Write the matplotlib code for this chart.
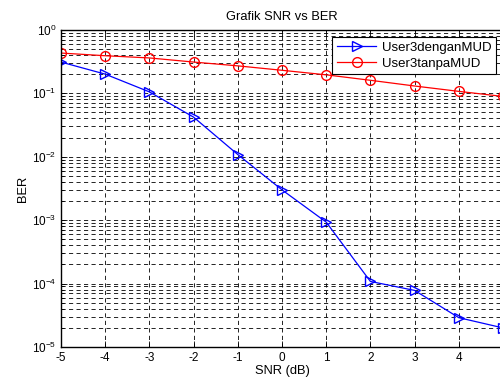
import matplotlib
matplotlib.use("Agg")
import matplotlib.pyplot as plt
from matplotlib.ticker import LogLocator, NullFormatter

plt.rcParams['font.family'] = ['Liberation Sans', 'DejaVu Sans']
plt.rcParams['mathtext.fontset'] = 'custom'
plt.rcParams['mathtext.rm'] = 'Liberation Sans'

snr = [-5, -4, -3, -2, -1, 0, 1, 2, 3, 4, 5]
ber_mud = [0.31, 0.20, 0.105, 0.042, 0.0108, 0.003, 0.00093, 1.08e-4, 7.8e-5, 2.9e-5, 2.0e-5]
ber_nomud = [0.43, 0.39, 0.36, 0.31, 0.27, 0.23, 0.195, 0.16, 0.13, 0.107, 0.089]
labels = ['User3denganMUD', 'User3tanpaMUD']

fig = plt.figure(figsize=(5.0, 3.79), dpi=100)
ax = fig.add_axes([0.122, 0.0844, 0.884, 0.837])

ax.semilogy(snr, ber_mud, color='#0000ff', marker='>', markerfacecolor='none',
            markeredgecolor='#0000ff', markersize=7, linewidth=0.9, label=labels[0])
ax.semilogy(snr, ber_nomud, color='#ff0000', marker='o', markerfacecolor='none',
            markeredgecolor='#ff0000', markersize=7, linewidth=0.9, label=labels[1])

ax.set_xlim(-5, 5)
ax.set_ylim(1e-5, 1e0)
ax.set_xticks(snr)
ax.set_xticklabels([str(v) for v in snr])
ax.yaxis.set_major_locator(LogLocator(base=10, numticks=10))
ax.yaxis.set_minor_locator(LogLocator(base=10, subs=range(2, 10), numticks=20))
ax.yaxis.set_minor_formatter(NullFormatter())

ax.grid(True, which='major', color='black', linestyle=(0, (5, 4)), linewidth=0.6)
ax.grid(True, which='minor', axis='y', color='black', linestyle=(0, (5, 4)), linewidth=0.6)

ax.tick_params(which='both', direction='in', top=True, right=True, labelsize=8.5, width=0.6)
ax.tick_params(which='major', length=4)
ax.tick_params(which='minor', length=2)
for s in ax.spines.values():
    s.set_linewidth(1.0)

ax.set_title('Grafik SNR vs BER', fontsize=9.3, pad=7)
ax.set_xlabel('SNR (dB)', fontsize=9.3, labelpad=1)
ax.set_ylabel('BER', fontsize=9.3, labelpad=2)

leg = ax.legend(loc='upper right', bbox_to_anchor=(0.984, 0.978), fontsize=9.5,
                fancybox=False, framealpha=1, edgecolor='black',
                borderpad=0.35, handlelength=3.0, handletextpad=0.4,
                labelspacing=0.3, borderaxespad=0)
leg.get_frame().set_linewidth(0.8)

fig.savefig('out.png', dpi=100)
